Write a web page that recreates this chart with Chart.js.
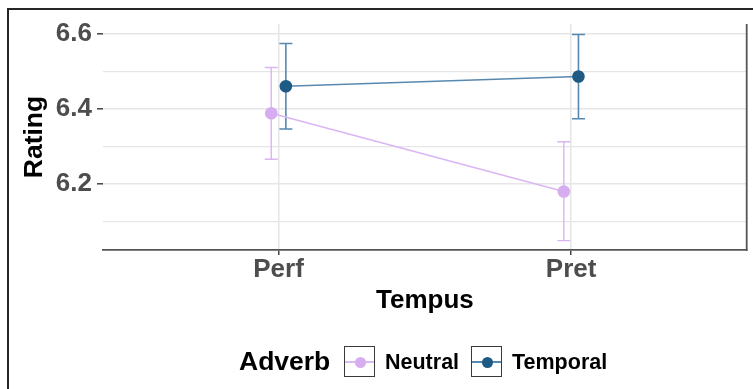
<!DOCTYPE html>
<html>
<head>
<meta charset="utf-8">
<script src="https://cdn.jsdelivr.net/npm/chart.js@4.4.1/dist/chart.umd.min.js"></script>
<style>
  body { margin: 0; background: #fff; overflow: hidden; width: 753px; height: 389px; position: relative; font-family: "Liberation Sans", Arial, sans-serif; }
  #frame { position: absolute; left: 7px; top: 8px; width: 780px; height: 420px; border: 2px solid #262626; box-sizing: border-box; }
  #chart { position: absolute; left: 0; top: 0; }
  .lg { position: absolute; font-weight: bold; color: #000; white-space: nowrap; }
  .key { position: absolute; width: 31px; height: 31px; box-sizing: border-box; border: 1.3px solid #3a3a3a; background: #fff; }
  .key .ln { position: absolute; left: 0; right: 0; top: 14px; height: 1.5px; }
  .key .pt { position: absolute; left: 10px; top: 10px; width: 11px; height: 11px; border-radius: 50%; }
</style>
</head>
<body>
<div id="frame"></div>
<canvas id="chart" width="753" height="389"></canvas>

<div class="lg" style="left:239px; top:348px; font-size:26.5px; line-height:26px;">Adverb</div>
<div class="key" style="left:344px; top:346px;"><div class="ln" style="background:#dcb8f5"></div><div class="pt" style="background:#d5adf0"></div></div>
<div class="lg" style="left:385px; top:352px; font-size:21.5px; line-height:21.5px;">Neutral</div>
<div class="key" style="left:471px; top:346px;"><div class="ln" style="background:#5788b0"></div><div class="pt" style="background:#1d5a84"></div></div>
<div class="lg" style="left:512px; top:352px; font-size:21.5px; line-height:21.5px;">Temporal</div>

<script>
// data
const categories = ['Perf', 'Pret'];
const neutralMean = [6.389, 6.180];
const neutralLow = [6.266, 6.049];
const neutralHigh = [6.511, 6.313];
const temporalMean = [6.461, 6.487];
const temporalLow = [6.347, 6.374];
const temporalHigh = [6.575, 6.599];
const yTicks = [6.1, 6.2, 6.3, 6.4, 6.5, 6.6];
const yLabels = ['', '6.2', '', '6.4', '', '6.6'];

const dodge = 0.025;
const font = '"Liberation Sans", Arial, sans-serif';

function pts(mean, shift) {
  return mean.map((v, i) => ({ x: i + 1 + shift, y: v }));
}

const series = [
  { label: 'Neutral', mean: neutralMean, low: neutralLow, high: neutralHigh, shift: -dodge, line: '#dab5f4', point: '#d5adf0', width: 1.4 },
  { label: 'Temporal', mean: temporalMean, low: temporalLow, high: temporalHigh, shift: dodge, line: '#5788b0', point: '#1d5a84', width: 1.6 }
];

const errorBars = {
  id: 'errorBars',
  beforeDatasetsDraw(chart) {
    const ctx = chart.ctx;
    const xs = chart.scales.x, ys = chart.scales.y;
    ctx.save();
    series.forEach(s => {
      ctx.strokeStyle = s.line;
      ctx.lineWidth = s.width;
      s.mean.forEach((m, i) => {
        const px = xs.getPixelForValue(i + 1 + s.shift);
        const top = ys.getPixelForValue(s.high[i]);
        const bot = ys.getPixelForValue(s.low[i]);
        ctx.beginPath();
        ctx.moveTo(px, top); ctx.lineTo(px, bot);
        ctx.moveTo(px - 6.5, top); ctx.lineTo(px + 6.5, top);
        ctx.moveTo(px - 6.5, bot); ctx.lineTo(px + 6.5, bot);
        ctx.stroke();
      });
    });
    ctx.restore();
  },
  afterDraw(chart) {
    const { ctx, chartArea } = chart;
    ctx.save();
    ctx.strokeStyle = '#555';
    ctx.lineWidth = 1.8;
    ctx.beginPath();
    ctx.moveTo(chartArea.right, chartArea.top);
    ctx.lineTo(chartArea.right, chartArea.bottom + 0.8);
    ctx.stroke();
    ctx.restore();
  }
};

new Chart(document.getElementById('chart'), {
  type: 'line',
  data: {
    datasets: series.map(s => ({
      label: s.label,
      data: pts(s.mean, s.shift),
      borderColor: s.line,
      borderWidth: s.width,
      pointBackgroundColor: s.point,
      pointBorderColor: s.point,
      pointRadius: 6.3,
      pointBorderWidth: 0,
      tension: 0
    }))
  },
  options: {
    responsive: false,
    animation: false,
    layout: { padding: { top: 24, right: 6, left: 0, bottom: 59 } },
    plugins: { legend: { display: false }, tooltip: { enabled: false } },
    scales: {
      x: {
        type: 'linear',
        min: 0.4,
        max: 2.6,
        afterBuildTicks: s => { s.ticks = categories.map((c, i) => ({ value: i + 1 })); },
        afterFit: s => { s.height = 80; },
        ticks: {
          callback: v => categories[v - 1],
          color: '#4d4d4d',
          font: { family: font, size: 26, weight: 'bold', lineHeight: 1 },
          padding: 2,
          maxRotation: 0,
          autoSkip: false
        },
        grid: { color: '#e6e6e6', lineWidth: 1.5, tickColor: '#444', tickLength: 5, tickWidth: 1.5 },
        border: { display: true, color: '#555', width: 1.8 },
        title: {
          display: true,
          text: 'Tempus',
          color: '#000',
          font: { family: font, size: 26, weight: 'bold', lineHeight: 1 },
          padding: { top: 0, bottom: 16 }
        }
      },
      y: {
        min: 6.024,
        max: 6.627,
        afterBuildTicks: s => { s.ticks = yTicks.map(v => ({ value: v })); },
        afterFit: s => { s.width = 103; },
        ticks: {
          callback: (v, i) => yLabels[i],
          color: '#4d4d4d',
          font: { family: font, size: 26, weight: 'bold', lineHeight: 1 },
          padding: 5,
          autoSkip: false
        },
        grid: {
          color: '#e6e6e6',
          lineWidth: c => (yLabels[c.index] ? 1.6 : 1.3),
          tickColor: c => (yLabels[c.index] ? '#444' : 'rgba(0,0,0,0)'),
          tickLength: 6,
          tickWidth: 1.5
        },
        border: { display: false },
        title: {
          display: true,
          text: 'Rating',
          color: '#000',
          font: { family: font, size: 26.5, weight: 'bold', lineHeight: 1 },
          padding: { top: 21.5, bottom: 0 }
        }
      }
    }
  },
  plugins: [errorBars]
});
</script>
</body>
</html>
